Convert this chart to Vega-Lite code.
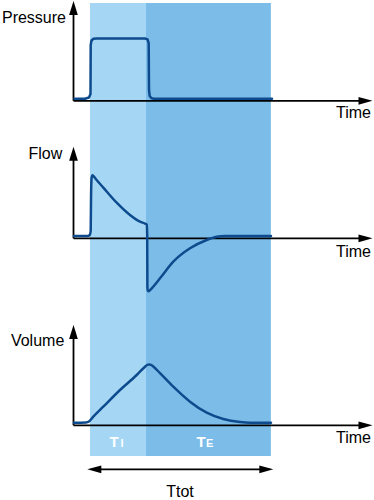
{
  "$schema": "https://vega.github.io/schema/vega-lite/v6.json",
  "padding": 0,
  "spacing": 0,
  "config": {"view": {"stroke": null}, "concat": {"spacing": 0}, "text": {"font": "Liberation Sans"}},
  "datasets": {
    "bands": [{"phase": "TI", "start": 0, "end": 1}, {"phase": "TE", "start": 1, "end": 3.23}],
    "pressure": [
      {"t": -0.2768, "v": 0.645}, {"t": -0.0893, "v": 0.68}, {"t": -0.0179, "v": 1.06}, {"t": 0.0089, "v": 2.19},
      {"t": 0.0125, "v": 18}, {"t": 0.0268, "v": 19.45}, {"t": 0.0625, "v": 20.03}, {"t": 0.1196, "v": 20.1},
      {"t": 0.982, "v": 20.1}, {"t": 1.027, "v": 19.8}, {"t": 1.048, "v": 18.6}, {"t": 1.054, "v": 3.48},
      {"t": 1.066, "v": 1.55}, {"t": 1.098, "v": 0.8}, {"t": 1.143, "v": 0.645}, {"t": 3.25, "v": 0.645}
    ],
    "flow": [
      {"t": -0.2857, "v": 0.038}, {"t": -0.0446, "v": 0.038}, {"t": -0.0036, "v": 0.055}, {"t": 0.0125, "v": 0.122},
      {"t": 0.0179, "v": 0.638}, {"t": 0.0286, "v": 1.005}, {"t": 0.0446, "v": 1.05}, {"t": 0.0625, "v": 1.035},
      {"t": 0.107, "v": 0.985}, {"t": 0.2375, "v": 0.845}, {"t": 0.4768, "v": 0.593}, {"t": 0.7143, "v": 0.388},
      {"t": 0.8929, "v": 0.277}, {"t": 0.991, "v": 0.242}, {"t": 1.0143, "v": 0.23}, {"t": 1.0214, "v": 0.055},
      {"t": 1.025, "v": -0.812}, {"t": 1.032, "v": -0.87}, {"t": 1.05, "v": -0.882}, {"t": 1.0804, "v": -0.855},
      {"t": 1.25, "v": -0.667}, {"t": 1.4875, "v": -0.39}, {"t": 1.7857, "v": -0.167}, {"t": 2.0839, "v": -0.028},
      {"t": 2.2625, "v": 0.025}, {"t": 2.4107, "v": 0.038}, {"t": 3.232, "v": 0.038}
    ],
    "volume": [
      {"t": -0.2857, "v": 0.043}, {"t": -0.0714, "v": 0.047}, {"t": -0.0179, "v": 0.063}, {"t": 0.0589, "v": 0.143},
      {"t": 0.2375, "v": 0.31}, {"t": 0.5357, "v": 0.588}, {"t": 0.8339, "v": 0.838}, {"t": 0.9821, "v": 0.977},
      {"t": 1.02, "v": 1.005}, {"t": 1.055, "v": 1.015}, {"t": 1.09, "v": 1.008}, {"t": 1.13, "v": 0.98},
      {"t": 1.25, "v": 0.87}, {"t": 1.4875, "v": 0.643}, {"t": 1.7857, "v": 0.393}, {"t": 2.0839, "v": 0.21},
      {"t": 2.3804, "v": 0.105}, {"t": 2.6786, "v": 0.055}, {"t": 2.8571, "v": 0.043}, {"t": 3.232, "v": 0.043}
    ]
  },
  "vconcat": [
    {
      "width": 374, "height": 130,
      "data": {"values": [{}]},
      "layer": [
        {"data": {"name": "bands"}, "mark": {"type": "rect"},
         "encoding": {
           "x": {"field": "start", "type": "quantitative", "scale": {"domain": [-1.6071, 5.0714], "nice": false, "zero": false}, "axis": null},
           "x2": {"field": "end"},
           "y": {"datum": 31.55, "type": "quantitative", "scale": {"domain": [-9.42, 32.52], "nice": false, "zero": false}, "axis": null},
           "y2": {"datum": -9.42},
           "color": {"field": "phase", "type": "nominal", "scale": {"domain": ["TI", "TE"], "range": ["#a5d7f5", "#7bbde8"]}, "legend": null}
         }},
        {"mark": {"type": "rule", "color": "black", "strokeWidth": 1.8},
         "encoding": {
           "x": {"datum": -0.2946, "type": "quantitative", "scale": {"domain": [-1.6071, 5.0714], "nice": false, "zero": false}, "axis": null},
           "x2": {"datum": 4.85},
           "y": {"datum": 0, "type": "quantitative", "scale": {"domain": [-9.42, 32.52], "nice": false, "zero": false}, "axis": null}
         }},
        {"mark": {"type": "rule", "color": "black", "strokeWidth": 1.8},
         "encoding": {
           "x": {"datum": -0.2946, "type": "quantitative", "scale": {"domain": [-1.6071, 5.0714], "nice": false, "zero": false}, "axis": null},
           "y": {"datum": 0, "type": "quantitative", "scale": {"domain": [-9.42, 32.52], "nice": false, "zero": false}, "axis": null},
           "y2": {"datum": 28.5}
         }},
        {"mark": {"type": "point", "shape": "M0,0L-2,-0.55L-2,0.55Z", "size": 196, "filled": true, "color": "black", "opacity": 1, "strokeWidth": 0},
         "encoding": {
           "x": {"datum": 5.0446, "type": "quantitative", "scale": {"domain": [-1.6071, 5.0714], "nice": false, "zero": false}, "axis": null},
           "y": {"datum": 0, "type": "quantitative", "scale": {"domain": [-9.42, 32.52], "nice": false, "zero": false}, "axis": null}
         }},
        {"mark": {"type": "point", "shape": "M0,0L-0.62,2L0.62,2Z", "size": 196, "filled": true, "color": "black", "opacity": 1, "strokeWidth": 0},
         "encoding": {
           "x": {"datum": -0.2946, "type": "quantitative", "scale": {"domain": [-1.6071, 5.0714], "nice": false, "zero": false}, "axis": null},
           "y": {"datum": 32.19, "type": "quantitative", "scale": {"domain": [-9.42, 32.52], "nice": false, "zero": false}, "axis": null}
         }},
        {"data": {"name": "pressure"}, "mark": {"type": "line", "color": "#0e4b8e", "strokeWidth": 2.5, "strokeJoin": "round", "strokeCap": "round"},
         "encoding": {
           "x": {"field": "t", "type": "quantitative", "scale": {"domain": [-1.6071, 5.0714], "nice": false, "zero": false}, "axis": null},
           "y": {"field": "v", "type": "quantitative", "scale": {"domain": [-9.42, 32.52], "nice": false, "zero": false}, "axis": null}
         }},
        {"mark": {"type": "text", "text": "Pressure", "fontSize": 16, "align": "right", "baseline": "alphabetic", "color": "black"},
         "encoding": {
           "x": {"datum": -0.4286, "type": "quantitative", "scale": {"domain": [-1.6071, 5.0714], "nice": false, "zero": false}, "axis": null},
           "y": {"datum": 24.94, "type": "quantitative", "scale": {"domain": [-9.42, 32.52], "nice": false, "zero": false}, "axis": null}
         }},
        {"mark": {"type": "text", "text": "Time", "fontSize": 16, "align": "right", "baseline": "alphabetic", "color": "black"},
         "encoding": {
           "x": {"datum": 5.0179, "type": "quantitative", "scale": {"domain": [-1.6071, 5.0714], "nice": false, "zero": false}, "axis": null},
           "y": {"datum": -5.645, "type": "quantitative", "scale": {"domain": [-9.42, 32.52], "nice": false, "zero": false}, "axis": null}
         }}
      ]
    },
    {
      "width": 374, "height": 175,
      "data": {"values": [{}]},
      "layer": [
        {"data": {"name": "bands"}, "mark": {"type": "rect"},
         "encoding": {
           "x": {"field": "start", "type": "quantitative", "scale": {"domain": [-1.6071, 5.0714], "nice": false, "zero": false}, "axis": null},
           "x2": {"field": "end"},
           "y": {"datum": 1.805, "type": "quantitative", "scale": {"domain": [-1.1117, 1.805], "nice": false, "zero": false}, "axis": null},
           "y2": {"datum": -1.1117},
           "color": {"field": "phase", "type": "nominal", "scale": {"domain": ["TI", "TE"], "range": ["#a5d7f5", "#7bbde8"]}, "legend": null}
         }},
        {"mark": {"type": "rule", "color": "black", "strokeWidth": 1.8},
         "encoding": {
           "x": {"datum": -0.2946, "type": "quantitative", "scale": {"domain": [-1.6071, 5.0714], "nice": false, "zero": false}, "axis": null},
           "x2": {"datum": 4.85},
           "y": {"datum": 0, "type": "quantitative", "scale": {"domain": [-1.1117, 1.805], "nice": false, "zero": false}, "axis": null}
         }},
        {"mark": {"type": "rule", "color": "black", "strokeWidth": 1.8},
         "encoding": {
           "x": {"datum": -0.2946, "type": "quantitative", "scale": {"domain": [-1.6071, 5.0714], "nice": false, "zero": false}, "axis": null},
           "y": {"datum": 0, "type": "quantitative", "scale": {"domain": [-1.1117, 1.805], "nice": false, "zero": false}, "axis": null},
           "y2": {"datum": 1.33}
         }},
        {"mark": {"type": "point", "shape": "M0,0L-2,-0.55L-2,0.55Z", "size": 196, "filled": true, "color": "black", "opacity": 1, "strokeWidth": 0},
         "encoding": {
           "x": {"datum": 5.0446, "type": "quantitative", "scale": {"domain": [-1.6071, 5.0714], "nice": false, "zero": false}, "axis": null},
           "y": {"datum": 0, "type": "quantitative", "scale": {"domain": [-1.1117, 1.805], "nice": false, "zero": false}, "axis": null}
         }},
        {"mark": {"type": "point", "shape": "M0,0L-0.62,2L0.62,2Z", "size": 196, "filled": true, "color": "black", "opacity": 1, "strokeWidth": 0},
         "encoding": {
           "x": {"datum": -0.2946, "type": "quantitative", "scale": {"domain": [-1.6071, 5.0714], "nice": false, "zero": false}, "axis": null},
           "y": {"datum": 1.5267, "type": "quantitative", "scale": {"domain": [-1.1117, 1.805], "nice": false, "zero": false}, "axis": null}
         }},
        {"data": {"name": "flow"}, "mark": {"type": "line", "color": "#0e4b8e", "strokeWidth": 2.5, "strokeJoin": "round", "strokeCap": "round", "interpolate": "monotone"},
         "encoding": {
           "x": {"field": "t", "type": "quantitative", "scale": {"domain": [-1.6071, 5.0714], "nice": false, "zero": false}, "axis": null},
           "y": {"field": "v", "type": "quantitative", "scale": {"domain": [-1.1117, 1.805], "nice": false, "zero": false}, "axis": null}
         }},
        {"mark": {"type": "text", "text": "Flow", "fontSize": 16, "align": "right", "baseline": "alphabetic", "color": "black"},
         "encoding": {
           "x": {"datum": -0.4946, "type": "quantitative", "scale": {"domain": [-1.6071, 5.0714], "nice": false, "zero": false}, "axis": null},
           "y": {"datum": 1.3167, "type": "quantitative", "scale": {"domain": [-1.1117, 1.805], "nice": false, "zero": false}, "axis": null}
         }},
        {"mark": {"type": "text", "text": "Time", "fontSize": 16, "align": "right", "baseline": "alphabetic", "color": "black"},
         "encoding": {
           "x": {"datum": 5.0179, "type": "quantitative", "scale": {"domain": [-1.6071, 5.0714], "nice": false, "zero": false}, "axis": null},
           "y": {"datum": -0.3067, "type": "quantitative", "scale": {"domain": [-1.1117, 1.805], "nice": false, "zero": false}, "axis": null}
         }}
      ]
    },
    {
      "width": 374, "height": 195,
      "data": {"values": [{}]},
      "layer": [
        {"data": {"name": "bands"}, "mark": {"type": "rect"},
         "encoding": {
           "x": {"field": "start", "type": "quantitative", "scale": {"domain": [-1.6071, 5.0714], "nice": false, "zero": false}, "axis": null},
           "x2": {"field": "end"},
           "y": {"datum": 2.005, "type": "quantitative", "scale": {"domain": [-1.245, 2.005], "nice": false, "zero": false}, "axis": null},
           "y2": {"datum": -0.5117},
           "color": {"field": "phase", "type": "nominal", "scale": {"domain": ["TI", "TE"], "range": ["#a5d7f5", "#7bbde8"]}, "legend": null}
         }},
        {"mark": {"type": "rule", "color": "black", "strokeWidth": 1.8},
         "encoding": {
           "x": {"datum": -0.2946, "type": "quantitative", "scale": {"domain": [-1.6071, 5.0714], "nice": false, "zero": false}, "axis": null},
           "x2": {"datum": 4.85},
           "y": {"datum": 0, "type": "quantitative", "scale": {"domain": [-1.245, 2.005], "nice": false, "zero": false}, "axis": null}
         }},
        {"mark": {"type": "rule", "color": "black", "strokeWidth": 1.8},
         "encoding": {
           "x": {"datum": -0.2946, "type": "quantitative", "scale": {"domain": [-1.6071, 5.0714], "nice": false, "zero": false}, "axis": null},
           "y": {"datum": 0, "type": "quantitative", "scale": {"domain": [-1.245, 2.005], "nice": false, "zero": false}, "axis": null},
           "y2": {"datum": 1.48}
         }},
        {"mark": {"type": "point", "shape": "M0,0L-2,-0.55L-2,0.55Z", "size": 196, "filled": true, "color": "black", "opacity": 1, "strokeWidth": 0},
         "encoding": {
           "x": {"datum": 5.0446, "type": "quantitative", "scale": {"domain": [-1.6071, 5.0714], "nice": false, "zero": false}, "axis": null},
           "y": {"datum": 0, "type": "quantitative", "scale": {"domain": [-1.245, 2.005], "nice": false, "zero": false}, "axis": null}
         }},
        {"mark": {"type": "point", "shape": "M0,0L-0.62,2L0.62,2Z", "size": 196, "filled": true, "color": "black", "opacity": 1, "strokeWidth": 0},
         "encoding": {
           "x": {"datum": -0.2946, "type": "quantitative", "scale": {"domain": [-1.6071, 5.0714], "nice": false, "zero": false}, "axis": null},
           "y": {"datum": 1.672, "type": "quantitative", "scale": {"domain": [-1.245, 2.005], "nice": false, "zero": false}, "axis": null}
         }},
        {"data": {"name": "volume"}, "mark": {"type": "line", "color": "#0e4b8e", "strokeWidth": 2.5, "strokeJoin": "round", "strokeCap": "round", "interpolate": "monotone"},
         "encoding": {
           "x": {"field": "t", "type": "quantitative", "scale": {"domain": [-1.6071, 5.0714], "nice": false, "zero": false}, "axis": null},
           "y": {"field": "v", "type": "quantitative", "scale": {"domain": [-1.245, 2.005], "nice": false, "zero": false}, "axis": null}
         }},
        {"mark": {"type": "text", "text": "Volume", "fontSize": 16, "align": "right", "baseline": "alphabetic", "color": "black"},
         "encoding": {
           "x": {"datum": -0.4589, "type": "quantitative", "scale": {"domain": [-1.6071, 5.0714], "nice": false, "zero": false}, "axis": null},
           "y": {"datum": 1.3217, "type": "quantitative", "scale": {"domain": [-1.245, 2.005], "nice": false, "zero": false}, "axis": null}
         }},
        {"mark": {"type": "text", "text": "Time", "fontSize": 16, "align": "right", "baseline": "alphabetic", "color": "black"},
         "encoding": {
           "x": {"datum": 5.0179, "type": "quantitative", "scale": {"domain": [-1.6071, 5.0714], "nice": false, "zero": false}, "axis": null},
           "y": {"datum": -0.3, "type": "quantitative", "scale": {"domain": [-1.245, 2.005], "nice": false, "zero": false}, "axis": null}
         }},
        {"mark": {"type": "text", "text": "T", "fontSize": 15, "fontWeight": "bold", "align": "center", "baseline": "alphabetic", "color": "white"},
         "encoding": {
           "x": {"datum": 0.4286, "type": "quantitative", "scale": {"domain": [-1.6071, 5.0714], "nice": false, "zero": false}, "axis": null},
           "y": {"datum": -0.3567, "type": "quantitative", "scale": {"domain": [-1.245, 2.005], "nice": false, "zero": false}, "axis": null}
         }},
        {"mark": {"type": "text", "text": "I", "fontSize": 11, "fontWeight": "bold", "align": "center", "baseline": "alphabetic", "color": "white"},
         "encoding": {
           "x": {"datum": 0.5714, "type": "quantitative", "scale": {"domain": [-1.6071, 5.0714], "nice": false, "zero": false}, "axis": null},
           "y": {"datum": -0.3567, "type": "quantitative", "scale": {"domain": [-1.245, 2.005], "nice": false, "zero": false}, "axis": null}
         }},
        {"mark": {"type": "text", "text": "T", "fontSize": 15, "fontWeight": "bold", "align": "center", "baseline": "alphabetic", "color": "white"},
         "encoding": {
           "x": {"datum": 1.982, "type": "quantitative", "scale": {"domain": [-1.6071, 5.0714], "nice": false, "zero": false}, "axis": null},
           "y": {"datum": -0.3567, "type": "quantitative", "scale": {"domain": [-1.245, 2.005], "nice": false, "zero": false}, "axis": null}
         }},
        {"mark": {"type": "text", "text": "E", "fontSize": 11, "fontWeight": "bold", "align": "center", "baseline": "alphabetic", "color": "white"},
         "encoding": {
           "x": {"datum": 2.1375, "type": "quantitative", "scale": {"domain": [-1.6071, 5.0714], "nice": false, "zero": false}, "axis": null},
           "y": {"datum": -0.3567, "type": "quantitative", "scale": {"domain": [-1.245, 2.005], "nice": false, "zero": false}, "axis": null}
         }},
        {"mark": {"type": "rule", "color": "black", "strokeWidth": 1.8},
         "encoding": {
           "x": {"datum": 0.15, "type": "quantitative", "scale": {"domain": [-1.6071, 5.0714], "nice": false, "zero": false}, "axis": null},
           "x2": {"datum": 3.08},
           "y": {"datum": -0.7333, "type": "quantitative", "scale": {"domain": [-1.245, 2.005], "nice": false, "zero": false}, "axis": null}
         }},
        {"mark": {"type": "point", "shape": "M0,0L2,-0.55L2,0.55Z", "size": 196, "filled": true, "color": "black", "opacity": 1, "strokeWidth": 0},
         "encoding": {
           "x": {"datum": -0.0482, "type": "quantitative", "scale": {"domain": [-1.6071, 5.0714], "nice": false, "zero": false}, "axis": null},
           "y": {"datum": -0.7333, "type": "quantitative", "scale": {"domain": [-1.245, 2.005], "nice": false, "zero": false}, "axis": null}
         }},
        {"mark": {"type": "point", "shape": "M0,0L-2,-0.55L-2,0.55Z", "size": 196, "filled": true, "color": "black", "opacity": 1, "strokeWidth": 0},
         "encoding": {
           "x": {"datum": 3.2732, "type": "quantitative", "scale": {"domain": [-1.6071, 5.0714], "nice": false, "zero": false}, "axis": null},
           "y": {"datum": -0.7333, "type": "quantitative", "scale": {"domain": [-1.245, 2.005], "nice": false, "zero": false}, "axis": null}
         }},
        {"mark": {"type": "text", "text": "Ttot", "fontSize": 16, "align": "center", "baseline": "alphabetic", "color": "black"},
         "encoding": {
           "x": {"datum": 1.6071, "type": "quantitative", "scale": {"domain": [-1.6071, 5.0714], "nice": false, "zero": false}, "axis": null},
           "y": {"datum": -1.19, "type": "quantitative", "scale": {"domain": [-1.245, 2.005], "nice": false, "zero": false}, "axis": null}
         }}
      ]
    }
  ]
}
